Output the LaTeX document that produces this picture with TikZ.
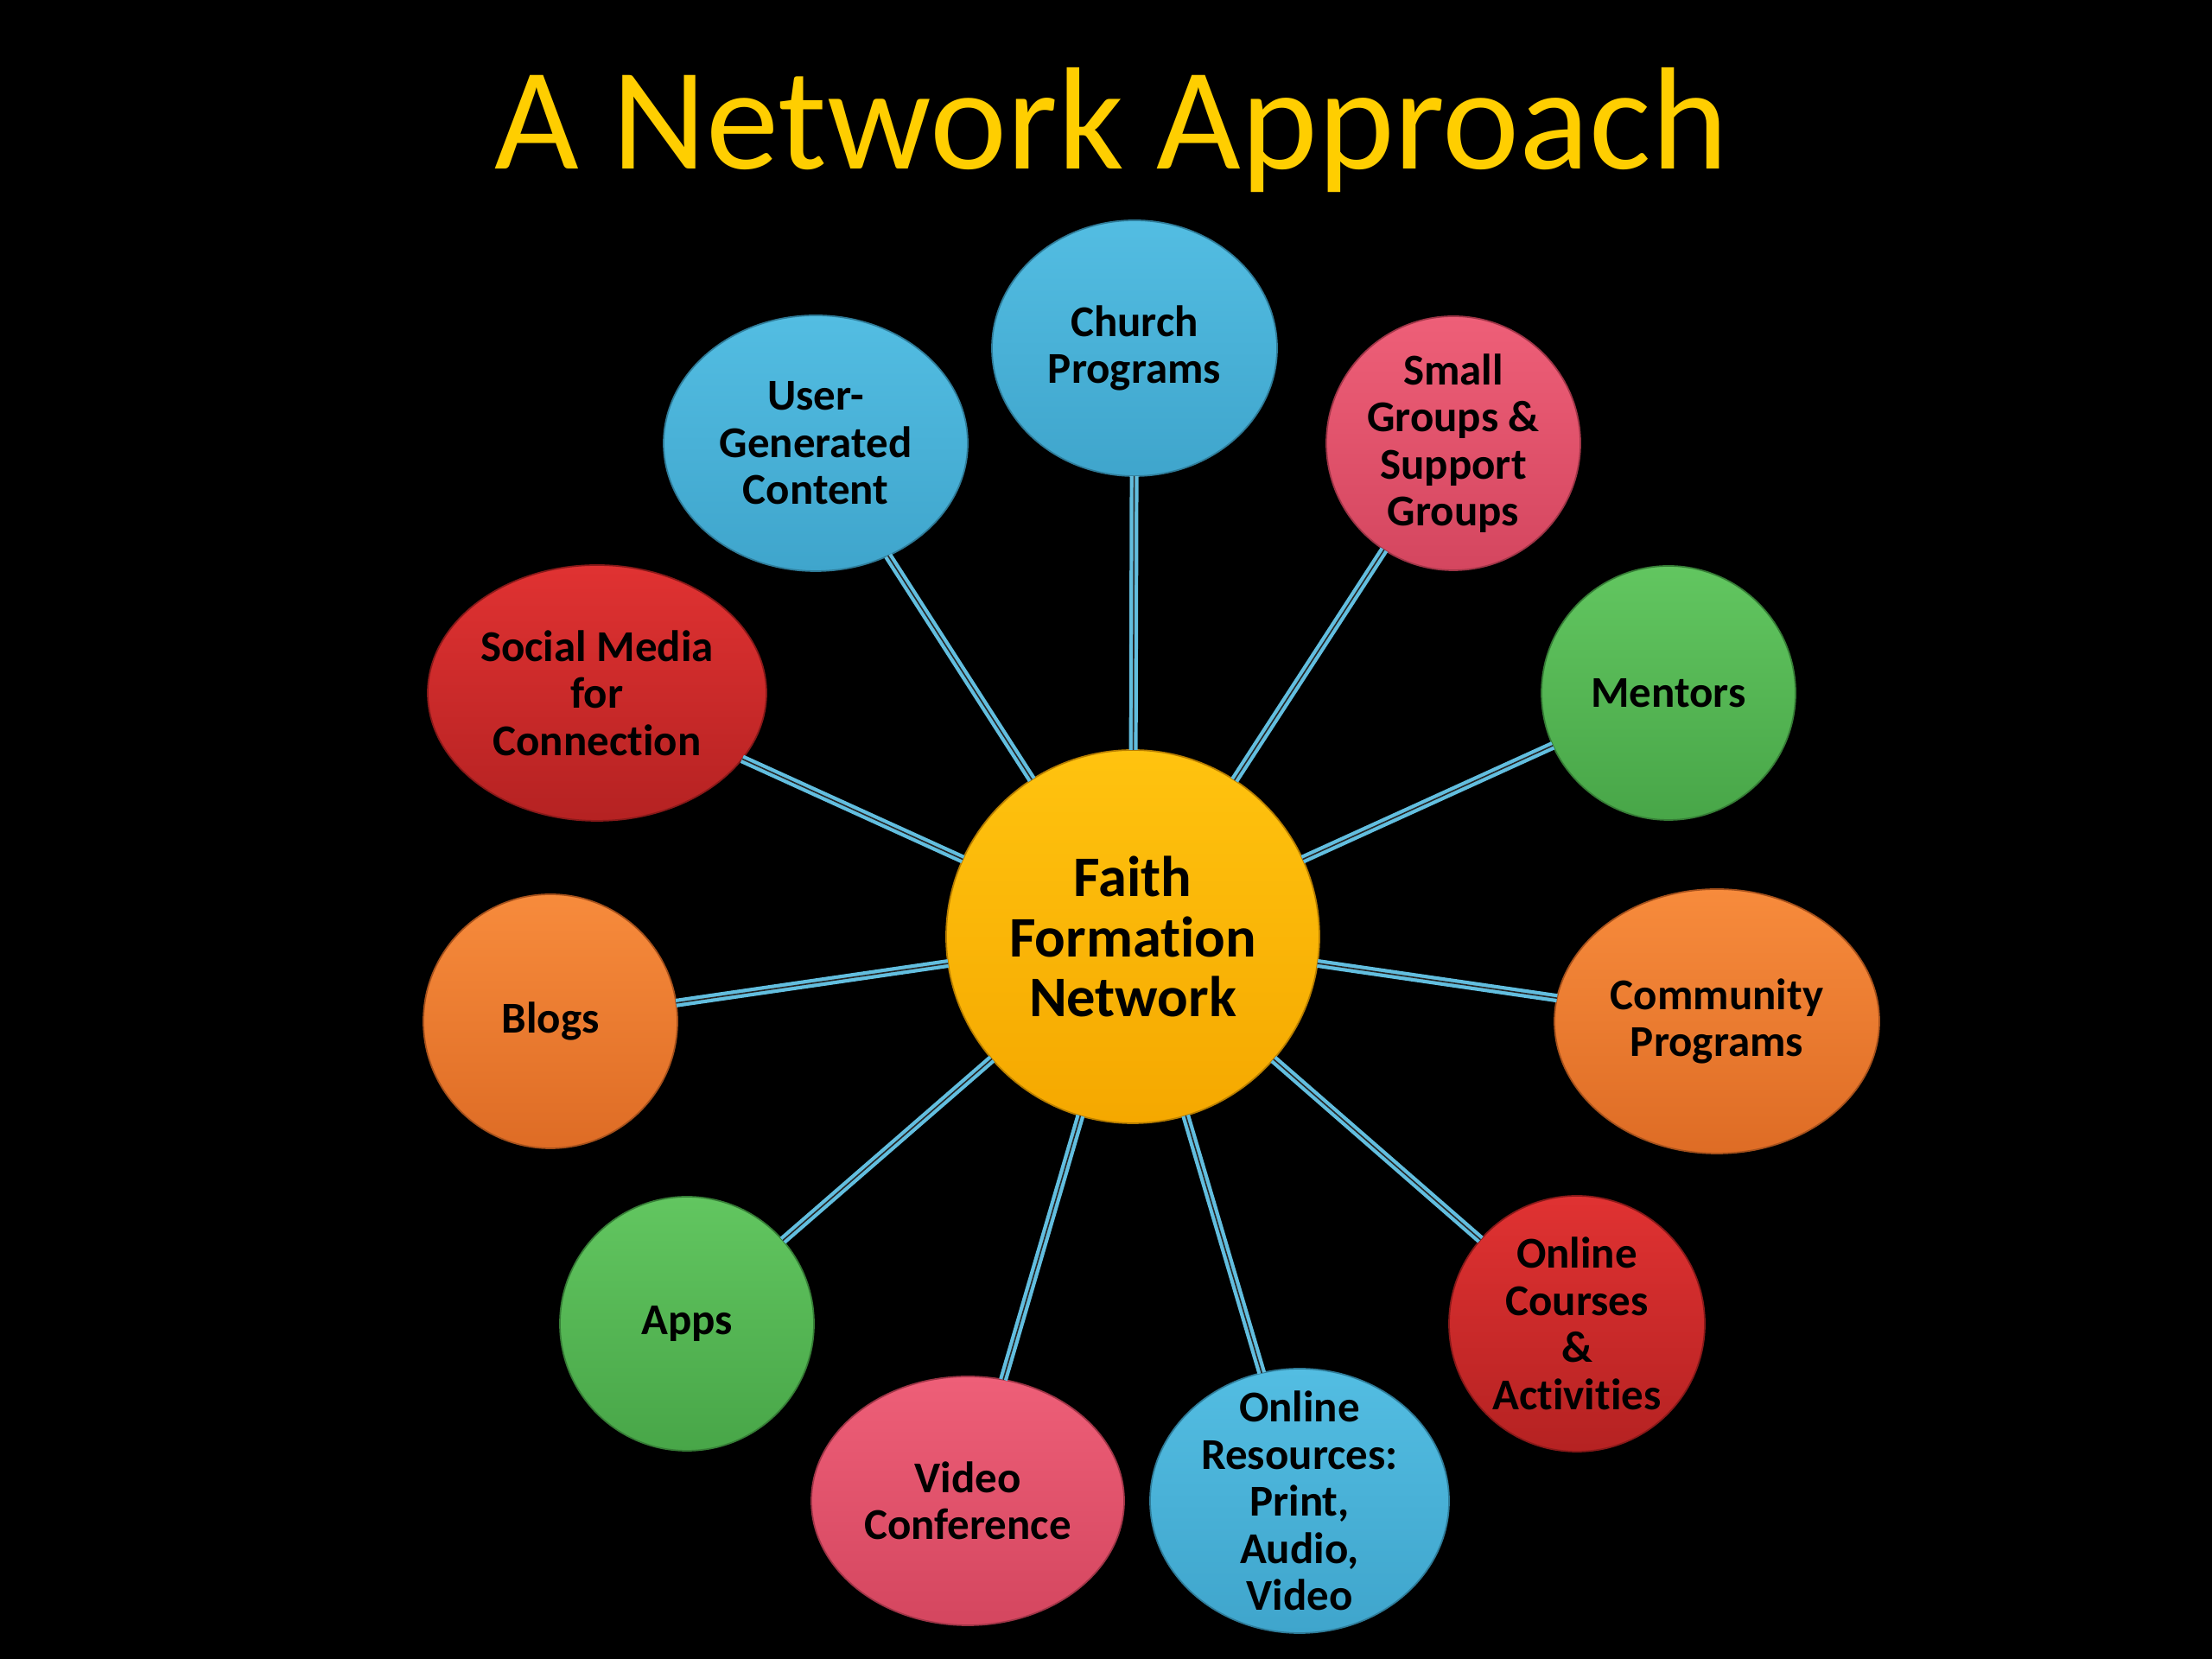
\documentclass[tikz,border=0pt]{standalone}
\usepackage{fontspec}
\setmainfont{Carlito}[Ligatures=CommonOff]
\usetikzlibrary{shapes.geometric}

\definecolor{titlegold}{HTML}{FFCE00}
\definecolor{hubtop}{HTML}{FFC30F}
\definecolor{hubbot}{HTML}{F5A800}
\definecolor{bluetop}{HTML}{53BDE2}
\definecolor{bluebot}{HTML}{3FA5CC}
\definecolor{pinktop}{HTML}{EE5F78}
\definecolor{pinkbot}{HTML}{D4465F}
\definecolor{greentop}{HTML}{62C660}
\definecolor{greenbot}{HTML}{48A648}
\definecolor{redtop}{HTML}{E03232}
\definecolor{redbot}{HTML}{B52222}
\definecolor{orangetop}{HTML}{F78B3C}
\definecolor{orangebot}{HTML}{DE6C25}
\definecolor{spokeblue}{HTML}{62BEDF}

\begin{document}
\begin{tikzpicture}[
              bubble/.style = {ellipse, inner sep=0pt, outer sep=0pt,
                               top color=#1top, bottom color=#1bot,
                               draw=#1bot!75!black, line width=0.5pt},
                 txt/.style = {font=\bfseries\fontsize{14.5}{15.5}\selectfont,
                               align=center, text=black, inner sep=0pt},
           spokeline/.style = {draw=spokeblue, line width=1.2pt,
                               double=black!85, double distance=0.45pt},
                       ]
	\fill[black] (0,0) rectangle (25.6,19.2);

	\node[font=\fontsize{48}{56}\selectfont, text=titlegold, anchor=base]
	    (title) at (12.86,17.24) {A Network Approach};

	\node[circle, minimum size=4.32cm, inner sep=0pt, outer sep=0pt,
	      top color=hubtop, bottom color=hubbot, draw=hubbot!75!black, line width=0.5pt,
	      font=\bfseries\fontsize{18.9}{19.9}\selectfont, align=center, text=black]
	    (hub) at (13.11,8.36) {Faith\\Formation\\Network};

	\node[bubble=blue, minimum width=3.30cm, minimum height=2.96cm,
	      label={[txt]center:{Church\\Programs}}] (church) at (13.13,15.17) {};
	\node[bubble=blue, minimum width=3.52cm, minimum height=2.96cm,
	      label={[txt]center:{User-\\Generated\\Content}}] (user) at (9.44,14.07) {};
	\node[bubble=pink, minimum width=2.94cm, minimum height=2.94cm,
	      label={[txt]center:{Small\\Groups \&\\Support\\Groups}}] (small) at (16.82,14.07) {};
	\node[bubble=red, minimum width=3.92cm, minimum height=2.96cm,
	      label={[txt]center:{Social Media\\for\\Connection}}] (social) at (6.91,11.18) {};
	\node[bubble=green, minimum width=2.94cm, minimum height=2.94cm,
	      label={[txt]center:{Mentors}}] (mentors) at (19.31,11.18) {};
	\node[bubble=orange, minimum width=2.94cm, minimum height=2.94cm,
	      label={[txt]center:{Blogs}}] (blogs) at (6.37,7.38) {};
	\node[bubble=orange, minimum width=3.76cm, minimum height=3.06cm,
	      label={[txt]center:{Community\\Programs}}] (community) at (19.87,7.38) {};
	\node[bubble=green, minimum width=2.94cm, minimum height=2.94cm,
	      label={[txt]center:{Apps}}] (apps) at (7.95,3.88) {};
	\node[bubble=red, minimum width=2.96cm, minimum height=2.96cm,
	      label={[txt]center:{Online\\Courses\\\&\\Activities}}] (courses) at (18.25,3.88) {};
	\node[bubble=pink, minimum width=3.62cm, minimum height=2.88cm,
	      label={[txt]center:{Video\\Conference}}] (video) at (11.20,1.83) {};
	\node[bubble=blue, minimum width=3.46cm, minimum height=3.06cm,
	      label={[txt]center:{Online\\Resources:\\Print,\\Audio,\\Video}}] (resources) at (15.04,1.83) {};

	\foreach \n in {church,user,small,social,mentors,blogs,community,apps,courses,video,resources}
	    \draw[spokeline] (hub) -- (\n);
\end{tikzpicture}
\end{document}
